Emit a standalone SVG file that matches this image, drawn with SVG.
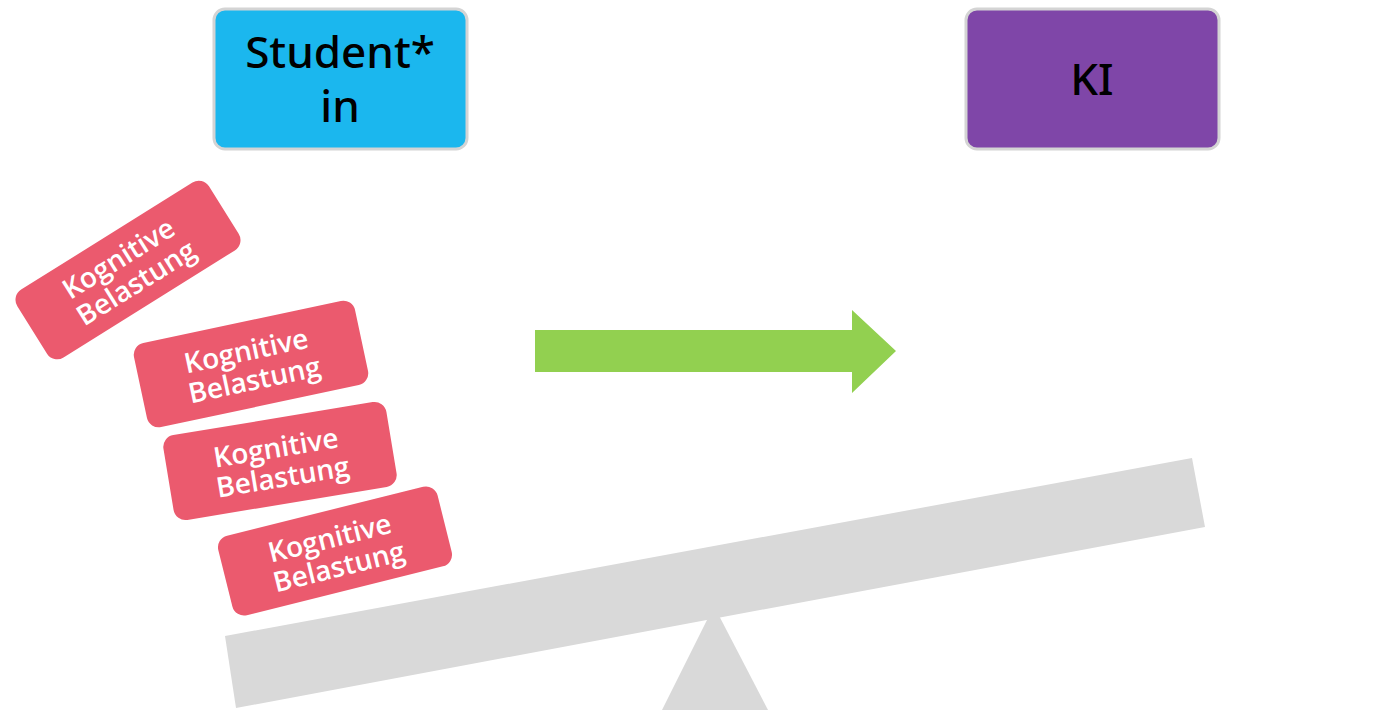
<svg xmlns="http://www.w3.org/2000/svg" width="1380" height="720" viewBox="0 0 1380 720">
<style>
.hdr{stroke:#d4d4d4;stroke-width:3}
.ht{font-family:"Noto Sans","Open Sans",sans-serif;font-size:44px;font-weight:500;fill:#000;text-anchor:middle}
.load rect{fill:#EB5A6E}
.load text{font-family:"Open Sans","Noto Sans",sans-serif;font-weight:600;font-size:28px;fill:#fff;text-anchor:middle}
.gray{fill:#D9D9D9}
</style>
<rect width="1380" height="720" fill="#fff"/>
<g id="student">
<rect class="hdr" x="214" y="9" width="253" height="140" rx="11" fill="#1BB7EE"/>
<text class="ht" x="340" y="68">Student*</text>
<text class="ht" x="340" y="122">in</text>
</g>
<g id="ki">
<rect class="hdr" x="966" y="9" width="253" height="140" rx="11" fill="#7F46A8"/>
<text class="ht" x="1092" y="95">KI</text>
</g>
<g id="seesaw">
<polygon class="gray" points="225,636 1192,458 1205,527 236,708"/>
<polygon class="gray" points="714,606 768,710 662,710"/>
</g>
<g id="connectors">
<polygon fill="#92D050" points="535,330 852,330 852,310 896,351 852,393 852,372 535,372"/>
</g>
<g id="load1" class="load" transform="translate(128,270) rotate(-32)">
<rect x="-113" y="-40" width="226" height="80" rx="12"/>
<text x="-2" y="-5">Kognitive</text>
<text x="0" y="25">Belastung</text>
</g>
<g id="load2" class="load" transform="translate(251,364) rotate(-12)">
<rect x="-113" y="-43" width="226" height="86" rx="12"/>
<text x="-2" y="-4">Kognitive</text>
<text x="0" y="26">Belastung</text>
</g>
<g id="load3" class="load" transform="translate(280,461) rotate(-9.4)">
<rect x="-113" y="-43" width="226" height="86" rx="12"/>
<text x="-2" y="-4">Kognitive</text>
<text x="0" y="26">Belastung</text>
</g>
<g id="load4" class="load" transform="translate(335,551) rotate(-14)">
<rect x="-113" y="-41" width="226" height="82" rx="12"/>
<text x="-2" y="-4">Kognitive</text>
<text x="0" y="26">Belastung</text>
</g>
</svg>
